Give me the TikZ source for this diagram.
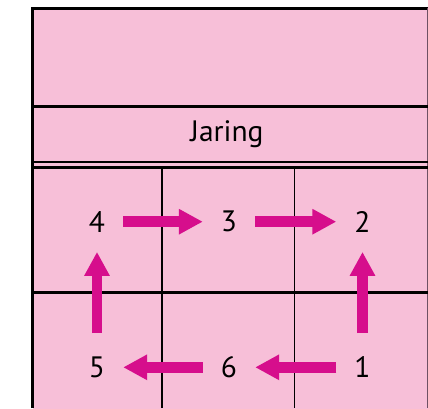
\documentclass[tikz,border=0pt]{standalone}
\usepackage{fontspec}
\setmainfont{PT Sans}
\usetikzlibrary{arrows.meta}
\definecolor{cellpink}{RGB}{247,191,216}
\definecolor{arrowmag}{RGB}{214,14,140}
\definecolor{edgegray}{RGB}{110,80,100}
\tikzset{
  digit/.style={circle,minimum size=52pt,inner sep=0pt,font=\fontsize{29.5}{31}\selectfont},
  flowarrow/.style={draw=arrowmag,line width=10.5pt,-{Triangle[length=24pt,width=24pt]}},
  border/.style={line width=3pt},
  rule/.style={line width=2.5pt},
  gridline/.style={line width=1.7pt}
}
\begin{document}
\begin{tikzpicture}[x=1pt,y=-1pt]
\useasboundingbox (0,0) rectangle (428,408);
\fill[cellpink] (33,8) rectangle (430,410);
% borders
\draw[border] (32.8,408) -- (32.8,8) -- (428,8);
\draw[edgegray,line width=1.2pt] (427.4,8) -- (427.4,408);
% horizontal rules
\draw[rule] (32.8,106.7) -- (428,106.7);
\draw[rule] (32.8,162) -- (428,162);
\draw[rule] (32.8,167.7) -- (428,167.7);
\draw[rule] (32.8,292.7) -- (428,292.7);
% vertical grid lines
\draw[gridline] (161.8,167.7) -- (161.8,408);
\draw[gridline] (294.5,167.7) -- (294.5,408);
% label
\node[anchor=base,inner sep=0pt,font=\fontsize{29.5}{31}\selectfont] (jaring) at (227,141.7) {Jaring};
% digits
\node[digit] (n4) at (97,221.7) {4};
\node[digit] (n3) at (229,221.7) {3};
\node[digit] (n2) at (362.5,221.7) {2};
\node[digit] (n5) at (97,367.3) {5};
\node[digit] (n6) at (229,367.3) {6};
\node[digit] (n1) at (362.5,367.3) {1};
% arrows
\draw[flowarrow] (n4) -- (n3);
\draw[flowarrow] (n3) -- (n2);
\draw[flowarrow,shorten >=4pt,shorten <=8pt] (n1) -- (n2);
\draw[flowarrow,shorten >=4pt,shorten <=8pt] (n5) -- (n4);
\draw[flowarrow] (n1) -- (n6);
\draw[flowarrow] (n6) -- (n5);
\end{tikzpicture}
\end{document}
